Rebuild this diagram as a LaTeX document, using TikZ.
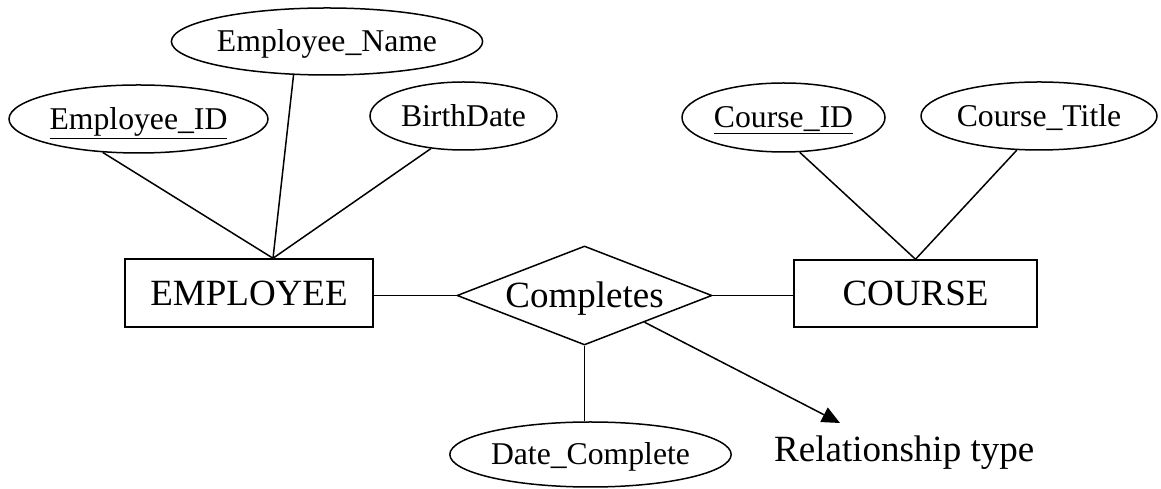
\documentclass[tikz,border=0pt]{standalone}
\usepackage{fontspec}
\setmainfont{Liberation Serif}
\usetikzlibrary{arrows.meta,shapes.geometric}

\begin{document}
\begin{tikzpicture}[
    x=1pt, y=1pt,
    element/.style={draw, inner sep=0pt, line width=1.5pt, text depth=0pt},
    entity/.style={element, rectangle, text height=24.5pt, font=\fontsize{37}{44}\selectfont},
    relation/.style={element, diamond, aspect=2.5, text height=24.5pt, font=\fontsize{37}{44}\selectfont},
    attribute/.style={element, ellipse, minimum height=68pt, text height=21pt, font=\fontsize{31.7}{38}\selectfont},
    link/.style={line width=1.5pt},
    arrow/.style={link, -{Triangle[length=18pt,width=16pt]}}
]
    \useasboundingbox (0,0) rectangle (1161,489);

    % entities and relationship
    \node[entity, minimum width=248pt, minimum height=68pt] (employee) at (249,196) {EMPLOYEE};
    \node[entity, minimum width=243pt, minimum height=67pt] (course) at (915.5,195.5) {COURSE};
    \node[relation, minimum width=255pt, minimum height=99pt] (completes) at (584.5,193.5) {Completes};

    % attributes
    \node[attribute, minimum width=259pt] (empid) at (138.5,370) {\underline{Employee\_ID}};
    \node[attribute, minimum width=300pt, minimum height=67pt] (empname) at (327,447.5) {Employee\_Name};
    \node[attribute, minimum width=187pt] (birth) at (463.5,373) {BirthDate};
    \node[attribute, minimum width=203pt, minimum height=69pt] (crsid) at (783.5,371.5) {\underline{Course\_ID}};
    \node[attribute, minimum width=236pt] (crstitle) at (1039,373) {Course\_Title};
    \node[attribute, minimum width=275pt, minimum height=65pt] (datecomp) at (590.5,34.5) {Date\_Complete};

    % note
    \node[anchor=base west, inner sep=0pt, font=\fontsize{37}{44}\selectfont] (reltype) at (774,27) {Relationship type};
    \coordinate (reltip) at (840,66);
    \coordinate (empjoin) at ([xshift=24pt]employee.north);

    \draw[link] (empid.223) -- (empjoin);
    \draw[link] (empname.225) -- (empjoin);
    \draw[link] (birth.225) -- (empjoin);
    \draw[link] (crsid.295) -- (course.north);
    \draw[link] (crstitle.237) -- (course.north);
    \draw[link] (completes.west) -- (completes.west -| employee.east);
    \draw[link] (completes.east) -- (completes.east -| course.west);
    \draw[link] (completes.south) -- (completes.south |- datecomp.north);
    \draw[arrow] (completes.-24) -- (reltip);
\end{tikzpicture}
\end{document}
